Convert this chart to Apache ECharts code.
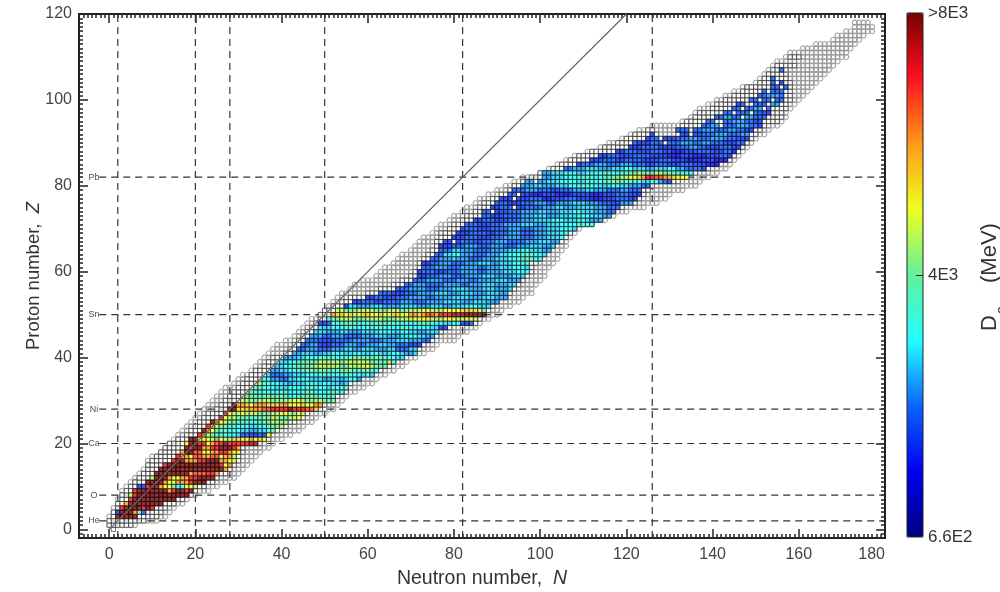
<!DOCTYPE html>
<html><head><meta charset="utf-8">
<style>html,body{margin:0;padding:0;background:#fff}#c{width:1000px;height:592px}</style>
<script src="https://cdn.jsdelivr.net/npm/echarts@6/dist/echarts.min.js"></script>
</head><body><div id="c"></div>
<script>
// [Z, Nfrom, Nto] grey circles: nuclides predicted
const circleRows = [[1,0,6],[2,0,11],[3,0,13],[4,1,14],[5,1,15],[6,2,17],[7,2,18],[8,3,20],[9,3,23],[10,4,25],[11,5,27],[12,6,29],[13,7,30],[14,8,31],[15,9,32],[16,9,33],[17,10,34],[18,12,35],[19,13,37],[20,14,38],[21,15,40],[22,16,42],[23,17,44],[24,18,45],[25,19,47],[26,20,48],[27,21,50],[28,22,52],[29,23,53],[30,24,54],[31,25,55],[32,26,57],[33,27,59],[34,29,61],[35,30,62],[36,31,64],[37,33,66],[38,34,68],[39,35,69],[40,36,71],[41,37,73],[42,38,75],[43,39,76],[44,41,80],[45,43,81],[46,44,83],[47,45,85],[48,46,86],[49,47,88],[50,49,90],[51,50,91],[52,51,93],[53,52,95],[54,53,96],[55,54,98],[56,56,98],[57,57,99],[58,59,100],[59,62,101],[60,63,101],[61,64,102],[62,66,103],[63,67,104],[64,68,104],[65,70,105],[66,71,106],[67,72,106],[68,73,107],[69,75,108],[70,76,109],[71,77,112],[72,79,115],[73,80,117],[74,82,120],[75,83,124],[76,85,127],[77,86,129],[78,88,130],[79,90,133],[80,92,136],[81,94,137],[82,96,139],[83,100,141],[84,102,143],[85,104,144],[86,106,145],[87,108,146],[88,111,147],[89,114,148],[90,116,149],[91,119,150],[92,121,152],[93,123,153],[94,126,155],[95,133,156],[96,135,157],[97,136,157],[98,137,158],[99,139,159],[100,141,160],[101,143,161],[102,145,162],[103,147,163],[104,150,164],[105,151,165],[106,152,166],[107,153,167],[108,154,168],[109,155,169],[110,157,171],[111,158,171],[112,161,172],[113,164,173],[114,168,174],[115,169,175],[116,171,177],[117,173,177],[118,173,176]];

// [Z, Nfrom, Nto] black squares: nuclides measured
const squareRows = [[0,1,1],[1,0,5],[2,0,8],[3,1,11],[4,1,12],[5,2,13],[6,2,15],[7,3,17],[8,3,19],[9,4,20],[10,5,22],[11,6,24],[12,7,25],[13,8,27],[14,9,28],[15,9,29],[16,10,30],[17,11,30],[18,12,31],[19,13,31],[20,14,35],[21,16,37],[22,18,37],[23,19,39],[24,20,41],[25,21,43],[26,22,45],[27,23,46],[28,25,49],[29,26,50],[30,27,52],[31,28,53],[32,29,55],[33,30,55],[34,31,56],[35,32,58],[36,33,61],[37,34,63],[38,36,65],[39,37,66],[40,38,68],[41,41,70],[42,42,72],[43,43,73],[44,44,75],[45,45,76],[46,46,77],[47,47,79],[48,48,85],[49,49,86],[50,49,86],[51,50,88],[52,52,89],[53,54,90],[54,56,92],[55,60,93],[56,63,94],[57,66,95],[58,68,96],[59,70,97],[60,71,98],[61,72,98],[62,72,99],[63,73,100],[64,74,101],[65,75,102],[66,76,103],[67,76,105],[68,77,106],[69,77,107],[70,79,108],[71,80,112],[72,82,114],[73,83,116],[74,85,117],[75,86,119],[76,87,122],[77,89,123],[78,91,124],[79,93,125],[80,94,126],[81,96,132],[82,98,134],[83,100,136],[84,103,139],[85,105,141],[86,107,144],[87,109,145],[88,112,146],[89,115,147],[90,118,148],[91,120,149],[92,122,127],[92,132,150],[93,125,126],[93,132,151],[94,133,152],[95,134,155],[96,136,156],[97,137,156],[98,140,157],[99,141,157],[100,143,158],[101,145,158],[102,147,158],[103,148,158],[104,151,158],[105,152,157],[106,153,157],[107,154,157],[108,155,159],[110,158,160]];

// Letter codes for the colour read from each cell, in MeV
const levelValues = {a:1550,b:1950,c:2350,d:2800,e:3150,f:3420,g:3900,h:4330,i:4800,j:5250,k:5700,l:6200,m:6800,r:7200,x:7700,z:8000};

// [Z, first N, runs of level+count along the row] ("_" = measured, no value)
const heatRows = [
[3,2,"z5"],[4,2,"b1 z3 l1 h1 c1"],[5,3,"r1 z4 r1 z1 r1"],[6,4,"l1 z8"],[7,5,"r1 z10"],[8,5,"i1 r1 z12"],
[9,6,"r1 z7 l1 r1 z2 r1 z1"],[10,7,"b2 r1 z2 l1 j2 h1 f2 j2 i1"],[11,9,"z4 l1 j2 l3 r1 z3"],[12,10,"i1 z3 l1 j2 l2 r2 z4"],
[13,11,"z8 l1 m3 r2 l1"],[14,12,"z15 l1"],[15,13,"r1 z12 r1 j1 l1"],[16,15,"r1 z2 l3 r2 z3 l2 j2"],[17,16,"r1 l2 j1 m2 l2 m2 j1 l2 i1"],
[18,17,"l1 z2 m2 j2 l2 r2 l1 j2"],[19,18,"z1 r1 z2 l2 r2 z3 r1 l1"],[20,18,"j1 z2 r2 j1 l1 m1 r1 z1 r5 x2"],
[21,19,"z2 j3 i1 l1 j1 i2 k2 j2 l1 j1 k1 j1"],[22,21,"r1 l1 i1 h1 f2 g1 f2 e1 c2 b2 c1 b1 j1"],[23,22,"z1 l1 j1 h1 g2 f3 e2 d2 e2 f1 h1"],
[24,23,"r1 k1 i1 h2 g2 f3 e2 f2 g1 h2 i1"],[25,24,"z1 l1 j1 i1 h2 g3 f1 g2 h2 i2 h1 i1"],[26,26,"r1 j1 i2 h2 g3 h3 i2 h2 i2 j1"],
[27,27,"r1 j1 i2 j1 i3 h3 i2 j2 i1 h1 j1 i1"],[28,28,"z2 k3 l3 m2 r4 z1 r3 m2 k1"],[29,29,"z1 l2 k1 j1 l3 k3 l2 j3 k1 j2 l2"],
[30,31,"i2 h2 i3 h3 i2 j2 i1 h2 i2 h3"],[31,32,"h2 g3 h3 g2 f2 g2 h2 g2 f1 g2"],[32,33,"h1 g3 f3 g2 f4 g2 f3 g2 f2"],
[33,34,"g2 f3 e3 f4 g2 f3 e1 f2 g2"],[34,35,"i1 g2 f2 e2 d1 e3 f3 e1 f2 e2 d1 e1"],[35,36,"f2 d2 c2 e2 f3 e3 d2 e2 d1 e1 f2 d1"],
[36,37,"e1 c3 d2 e3 f4 g2 f3 g2 f2 e1 f1 e1"],[37,38,"d2 e2 f2 g3 h4 g3 h3 g2 h2 g1 f1"],[38,39,"e2 f2 g2 h3 i6 h2 i4 j1 i1 h3"],
[39,40,"e2 f2 g2 h3 i5 h1 i3 j1 i2 h2 g2 k1 f1"],[40,41,"d3 e2 f3 g3 f2 g3 h2 g3 h1 g2 f2 e2"],[41,43,"d2 e3 d2 e2 f3 e2 f2 e2 f2 e3 f2 e1 d2 e1"],
[42,44,"c2 d3 c3 d3 e2 d2 e3 d3 e2 c3 e2"],[43,45,"c2 d2 b3 c3 d3 c2 d3 e2 d2 c3 b3"],[44,46,"c3 b4 c4 d4 c3 d3 e3 d3 c2"],
[45,47,"d3 c2 d3 c4 d3 e3 d3 e2 f2 e2 d2"],[46,48,"e3 d3 e2 d3 e4 f3 e2 f2 e2 d2 e3"],[47,49,"e3 f3 g2 f4 g3 f4 g2 f5 e2 b2"],
[48,49,"b2 c1 f3 g3 f5 g4 f6 g2 f3 e2 f2 b2 c1"],[49,51,"f1 h2 i3 h3 i4 h3 i4 j4 i3 j3 i2 j2 i1"],
[50,52,"l1 k2 j1 k1 j2 k2 j2 k1 j2 k2 j2 l2 k1 l1 m2 l1 r3 x3 z5"],[51,53,"i2 h3 i4 h3 i3 h2 i3 j2 i3 j4 k4 i1 h1"],
[52,55,"b1 e2 d3 e3 d4 e4 d3 e3 d2 e3 f3 e3"],[53,57,"b2 c3 b2 c4 d3 c3 d4 e4 d3 e3 d3"],[54,60,"b2 c2 b3 c3 d4 c2 d4 e4 d3 e3 d3"],
[55,63,"c3 b3 c3 d4 e3 d3 e3 d3 e3 d2"],[56,67,"c3 d4 c3 d3 e4 d3 e3 d3 e1"],[57,69,"c2 d3 c4 d4 c2 d3 e3 d3 e2"],
[58,71,"c3 d4 c3 d3 c2 d4 e3 d3"],[59,72,"b2 c3 d3 c3 d4 e3 d4 e3"],[60,72,"b1 c3 b3 c3 d4 c2 d4 e3 f3"],
[61,73,"c3 d3 c3 d4 c2 d3 e3 f3 e1"],[62,73,"b2 c2 d3 c3 d3 e3 d2 e3 f3 g1"],[63,75,"c2 d3 e1 d3 c3 d3 e3 f3 g3 f2"],
[64,76,"c2 e2 f2 d3 c3 d3 e2 f3 g3 f2 e1"],[65,77,"c3 e2 d3 c4 d4 e3 f2 e3 d2"],[66,77,"b3 c3 d3 c3 d3 c3 d3 e3 d2 e1"],
[67,78,"b2 _1 b1 c3 b2 c3 d3 c4 d3 e3 d2"],[68,80,"b3 c3 b3 c3 d4 c3 d3 e3 f1"],[69,81,"b3 c4 b2 c3 d3 c3 d3 e3 f2"],
[70,82,"b1 c3 b3 c4 d3 c3 d3 e3 f3 e1"],[71,83,"c3 b3 c3 d4 e3 d3 e3 f4 g3 f1"],[72,85,"b2 c3 b3 c3 d3 e4 f3 e3 f2 e1 d3"],
[73,86,"_1 c2 b3 c4 d3 e3 d3 e4 f3 e3 d2"],[74,87,"c2 _1 b3 c3 d4 e2 d3 e3 f2 e3 d3 c2"],[75,89,"b2 c3 _1 b2 c4 d3 e2 d3 e4 d3 c3"],
[76,90,"c3 b3 c3 d3 c2 d4 e3 d3 c3 b2 d3"],[77,91,"b3 _1 b3 c3 a2 b3 c3 b3 a3 b3 c3 b2"],[78,93,"c2 _1 b2 a3 b3 a4 b4 a3 b3 c3 b3"],
[79,94,"c3 d3 c3 b2 c3 d3 e2 d3 c3 d2 c3"],[80,96,"d3 e2 d3 e3 f3 g2 f2 e3 f2 e2 d3 c2"],
[81,97,"d2 _1 d2 e3 f4 e2 f3 g3 h2 g3 f2 e2 f2 d1 c1 b1"],[82,100,"_1 d2 e3 f4 g3 f2 g2 h2 i2 j2 k1 l1 r2 m2 l2 k1 j3"],
[83,101,"d2 e3 f3 e2 f4 g2 f2 g2 h2 i1 h3 i2 h2 g3 f2"],[84,106,"c2 d3 e3 d3 e3 f2 e3 d2 e3 f2 d2 c2 c2 b1"],
[85,109,"b1 c3 d3 c3 d3 c3 b2 c3 b3 c3 b3 a3"],[86,112,"b3 c3 b2 c4 b4 c3 b3 a4 b3 a3"],[87,114,"b2 c3 b3 c4 b4 a3 b3 a3 b3 c2 b1"],
[88,118,"b2 c3 b3 c3 b2 a3 b3 c3 b3 c2 a1"],[89,120,"_1 b3 c4 b4 c3 d2 c2 b3 c3 b2"],[90,122,"c1 b3 c3 _1 c3 d3 c2 d2 c3 b3 c2"],
[91,125,"b1 c2 _1 b3 c3 d2 c3 d3 c3 b3"],[92,126,"b1 _6 b2 _1 b2 c3 d3 c3 d2"],[93,132,"c3 _1 c2 d3 c3 d2 c2 b2"],
[94,137,"_1 c2 d2 _1 c3 d3 c2 b1"],[95,139,"c2 _2 c2 d3 c2 b2"],[96,141,"c2 d2 c2 _1 d2 c3"],[97,143,"c2 _1 c3 _1 c2 b2"],
[98,145,"c2 _1 c2 d2 _1 c1"],[99,146,"b1 c1 _2 c3 _1 d2"],[100,149,"c2 _1 c2 _1 c2"],[101,151,"c2 d3 c1"],[102,152,"c1 _1 c3"],
[103,153,"_1 c2 _1 c1"],[104,154,"c1 _1 b1"],[105,154,"c1"],[107,156,"c1"]
];

const neutronMagic = [2,20,28,50,82,126];
const protonMagic = [2,8,20,28,50,82];
const protonMagicNames = ["He","O","Ca","Ni","Sn","Pb"];
const xMajorTicks = [0,20,40,60,80,100,120,140,160,180];
const yMajorTicks = [0,20,40,60,80,100,120];
const colorbarTicks = [660,4330,8000];
const colorbarLabels = {660:"6.6E2",4330:"4E3",8000:">8E3"};

const FONT = '"Liberation Sans", Arial, sans-serif';
const INK = '#222';

function expand(rows){ const out=[]; rows.forEach(r=>{ for(let n=r[1];n<=r[2];n++) out.push([n,r[0]]); }); return out; }
function heatData(){ const out=[]; heatRows.forEach(r=>{ let n=r[1]; r[2].split(' ').forEach(t=>{ const c=t[0], k=+t.slice(1); for(let i=0;i<k;i++,n++){ if(c!=='_') out.push([n,r[0],levelValues[c]]); } }); }); return out; }

const hAxis = (pos,major,labels)=>({type:'value',gridIndex:0,position:pos,min:-7,max:180,
  ...(major?{}:{interval:1}),
  axisLine:{show:true,onZero:false,lineStyle:{color:INK,width:2}},
  axisTick:major?{show:true,inside:true,length:9,lineStyle:{color:INK,width:1.5},customValues:xMajorTicks}:{show:true,inside:true,length:4,lineStyle:{color:INK,width:1.5}},
  splitLine:{show:false},
  axisLabel:labels?{show:true,customValues:xMajorTicks,alignMaxLabel:'right',margin:9,fontSize:16,fontFamily:FONT,color:'#444'}:{show:false},
  ...(labels?{name:'{a|Neutron number,  }{b|N}',nameLocation:'middle',nameGap:31,nameMoveOverlap:false,nameTextStyle:{rich:{a:{fontSize:19.5,fontFamily:FONT,color:'#333'},b:{fontSize:19.5,fontFamily:FONT,fontStyle:'italic',color:'#333'}}}}:{})
});
const vAxis = (pos,major,labels)=>({type:'value',gridIndex:0,position:pos,min:-2,max:120,
  ...(major?{}:{interval:1}),
  axisLine:{show:true,onZero:false,lineStyle:{color:INK,width:2}},
  axisTick:major?{show:true,inside:true,length:9,lineStyle:{color:INK,width:1.5},customValues:yMajorTicks}:{show:true,inside:true,length:4,lineStyle:{color:INK,width:1.5}},
  splitLine:{show:false},
  axisLabel:labels?{show:true,customValues:yMajorTicks,margin:7,fontSize:16,fontFamily:FONT,color:'#444'}:{show:false},
  ...(labels?{name:'{a|Proton number,  }{b|Z}',nameLocation:'middle',nameGap:36,nameMoveOverlap:false,nameTextStyle:{rich:{a:{fontSize:18.5,fontFamily:FONT,color:'#333'},b:{fontSize:18.5,fontFamily:FONT,fontStyle:'italic',color:'#333'}}}}:{})
});

const dash = {color:'#333',width:1.2,type:[7,5]};
const lineBase = {type:'line',xAxisIndex:0,yAxisIndex:0,symbol:'none',silent:true,z:2,animation:false,clip:false};
const vertical = neutronMagic.map(n=>({...lineBase,lineStyle:dash,data:[[n,-2],[n,120]]}));
const horizontal = protonMagic.map(z=>({...lineBase,lineStyle:dash,data:[[-2.3,z],[180,z]]}));

const cellStyle = {borderColor:'#111',borderWidth:0.7};
const heat = heatData();
const series = [
 {type:'scatter',name:'circles',xAxisIndex:0,yAxisIndex:0,symbol:'circle',symbolSize:5,silent:true,z:1,
  itemStyle:{color:'rgba(255,255,255,0)',borderColor:'#909090',borderWidth:1.1},data:expand(circleRows)},
 ...vertical,...horizontal,
 {type:'scatter',name:'squares',xAxisIndex:0,yAxisIndex:0,symbol:'rect',symbolSize:4.3,silent:true,z:3,
  itemStyle:{color:'#fff',...cellStyle},data:expand(squareRows)},
 {type:'scatter',name:'heat',xAxisIndex:0,yAxisIndex:0,symbol:'rect',symbolSize:4.3,silent:true,z:4,
  itemStyle:{...cellStyle},data:heat},
 {...lineBase,z:5,lineStyle:{color:'#666',width:1.2},data:[[0,0],[120,120]]},
 {type:'scatter',name:'magic labels',xAxisIndex:0,yAxisIndex:0,symbolSize:1,silent:true,z:6,itemStyle:{color:'rgba(0,0,0,0)'},
  label:{show:true,position:'inside',fontSize:9,fontFamily:FONT,color:'#222',formatter:p=>protonMagicNames[p.dataIndex]},
  data:protonMagic.map(z=>[-3.5,z])}
];
const heatIndex = series.findIndex(s=>s.name==='heat');

const chart = echarts.init(document.getElementById('c'),null,{renderer:'canvas'});
chart.setOption({
 animation:false,backgroundColor:'#fff',
 grid:[{left:79,top:14,width:806,height:524,outerBoundsMode:'none'},
       {left:907,top:13,width:16,height:524,outerBoundsMode:'none',show:true,borderColor:'#222',borderWidth:1,backgroundColor:'transparent',z:6}],
 xAxis:[hAxis('bottom',true,true),hAxis('bottom',false,false),hAxis('top',true,false),hAxis('top',false,false),
   {type:'value',gridIndex:1,min:0,max:1,show:false}],
 yAxis:[vAxis('left',true,true),vAxis('left',false,false),vAxis('right',true,false),vAxis('right',false,false),
   {type:'value',gridIndex:1,position:'right',min:660,max:8000,z:7,
    axisLine:{show:false,onZero:false},splitLine:{show:false},
    axisTick:{show:true,inside:true,length:7,customValues:[colorbarTicks[1]],lineStyle:{color:INK,width:1}},
    axisLabel:{show:true,customValues:colorbarTicks,margin:5,fontSize:17,fontFamily:FONT,color:'#333',formatter:v=>colorbarLabels[v]}}],
 visualMap:{type:'continuous',seriesIndex:heatIndex,dimension:2,min:660,max:8000,left:907,top:13,itemWidth:16,itemHeight:524,
   calculable:false,realtime:false,padding:0,showLabel:false,text:null,hoverLink:false,
   inRange:{color:['#00007f','#0000f0','#0a64ff','#22ffff','#64f09a','#eeff22','#ff9a1a','#ff1020','#780000']}},
 graphic:[
  {type:'text',x:990,y:331,rotation:Math.PI/2,silent:true,style:{text:'D',font:'22px "Liberation Sans"',fill:'#333',align:'left',verticalAlign:'middle'}},
  {type:'text',x:1004,y:314,rotation:Math.PI/2,silent:true,style:{text:'2n',font:'14px "Liberation Sans"',fill:'#333',align:'left',verticalAlign:'middle'}},
  {type:'text',x:990,y:283,rotation:Math.PI/2,silent:true,style:{text:'(MeV)',font:'22px "Liberation Sans"',fill:'#333',align:'left',verticalAlign:'middle'}}
 ],
 series
});
</script></body></html>
